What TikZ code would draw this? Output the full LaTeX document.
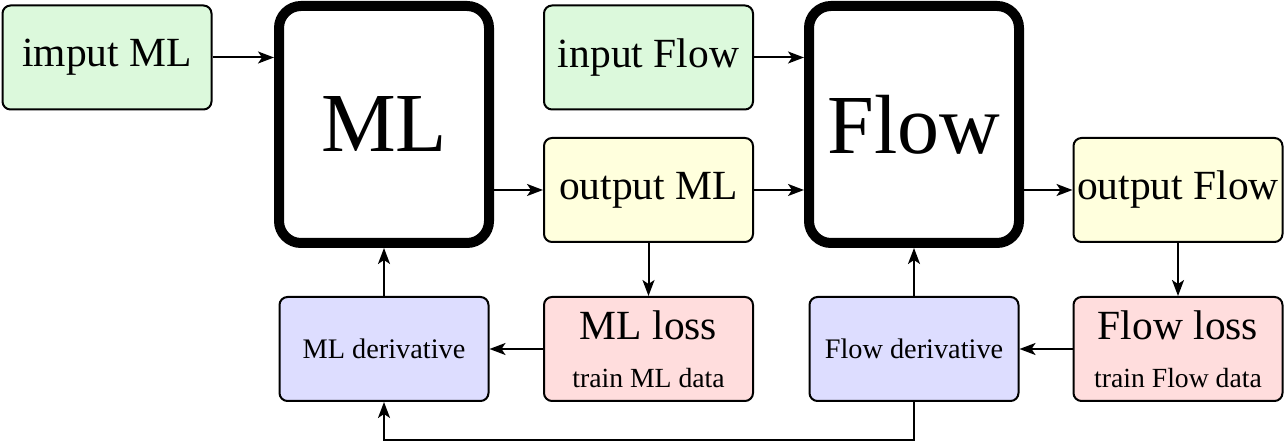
\documentclass[tikz,border=0pt]{standalone}
\usepackage{fontspec}
\setmainfont{Liberation Serif}
\usetikzlibrary{arrows.meta}
\definecolor{cgreen}{RGB}{220,249,220}
\definecolor{cyellow}{RGB}{255,255,221}
\definecolor{cred}{RGB}{255,221,221}
\definecolor{cblue}{RGB}{221,221,255}
\tikzset{
  smallbox/.style={draw, line width=2pt, rounded corners=8pt, minimum width=209pt, minimum height=104pt, inner sep=0pt, font=\fontsize{41.5}{48}\selectfont, align=center},
  bigbox/.style={draw, line width=10pt, rounded corners=22pt, minimum width=210pt, minimum height=237pt, inner sep=0pt, fill=white, font=\fontsize{84}{90}\selectfont},
  arr/.style={line width=2pt, -{Stealth[length=16pt, width=12pt, inset=4pt]}},
  smalltext/.style={font=\fontsize{28.3}{33}\selectfont}
}
\begin{document}
\begin{tikzpicture}[x=1pt, y=-1pt]
\useasboundingbox (0,0) rectangle (1285,443);
\node[smallbox, fill=cgreen] (inML) at (107,57.5) {imput ML};
\node[bigbox] (ML) at (384,124.5) {ML};
\node[smallbox, fill=cgreen] (inFlow) at (648.5,57.5) {input Flow};
\node[smallbox, fill=cyellow] (outML) at (648.5,190) {output ML};
\node[bigbox] (Flow) at (914,124.5) {Flow};
\node[smallbox, fill=cyellow] (outFlow) at (1178,190) {output Flow};
\node[smallbox, fill=cred] (MLloss) at (648.5,349) {ML loss\\{\fontsize{27.7}{48}\selectfont train ML data}};
\node[smallbox, fill=cred] (Flowloss) at (1178,349) {Flow loss\\{\fontsize{27.7}{48}\selectfont train Flow data}};
\node[smallbox, fill=cblue, smalltext] (MLder) at (384,349) {ML derivative};
\node[smallbox, fill=cblue, smalltext] (Flowder) at (914,349) {Flow derivative};
\draw[arr] (inML.east) -- (inML.east -| ML.west);
\draw[arr] (outML.west -| ML.east) -- (outML.west);
\draw[arr] (inFlow.east) -- (inFlow.east -| Flow.west);
\draw[arr] (outML.east) -- (outML.east -| Flow.west);
\draw[arr] (outFlow.west -| Flow.east) -- (outFlow.west);
\draw[arr] (outML.south) -- (MLloss.north);
\draw[arr] (outFlow.south) -- (Flowloss.north);
\draw[arr] (MLloss.west) -- (MLder.east);
\draw[arr] (Flowloss.west) -- (Flowder.east);
\draw[arr] (MLder.north) -- (ML.south);
\draw[arr] (Flowder.north) -- (Flow.south);
\coordinate (fb) at (914,440);
\draw[arr] (Flowder.south) -- (fb) -| (MLder.south);
\end{tikzpicture}
\end{document}
